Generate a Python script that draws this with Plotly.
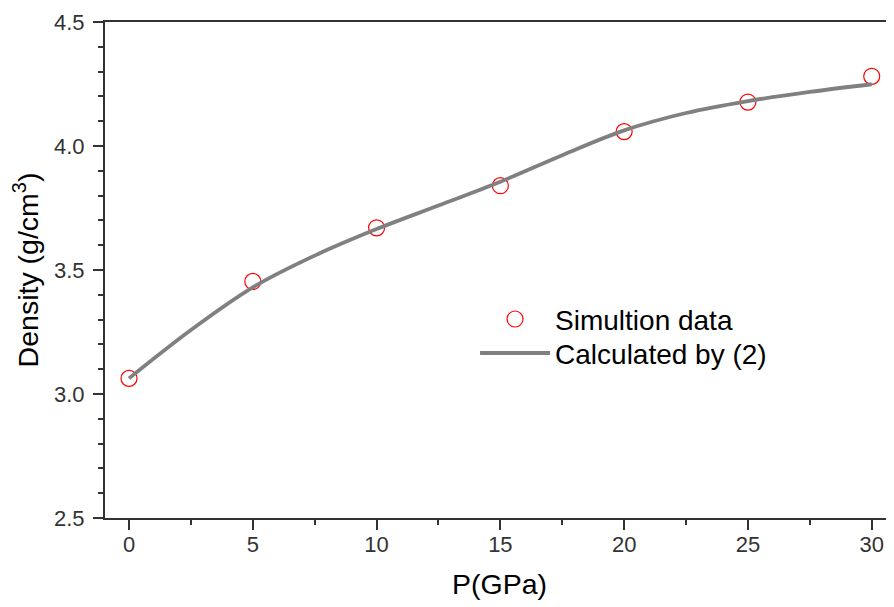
import plotly.graph_objects as go

# Data
sim_p = [0, 5, 10, 15, 20, 25, 30]
sim_density = [3.063, 3.454, 3.670, 3.840, 4.058, 4.177, 4.281]

calc_p = [0, 2.5, 5, 7.5, 10, 12.5, 15, 17.5, 20, 22.5, 25, 27.5, 30]
calc_density = [3.063, 3.258, 3.43, 3.558, 3.665, 3.76, 3.856, 3.963, 4.063, 4.133, 4.181, 4.218, 4.249]

x_ticks = [0, 5, 10, 15, 20, 25, 30]
y_ticks = [2.5, 3.0, 3.5, 4.0, 4.5]

FONT = "Liberation Sans, Arial, sans-serif"
AXIS_COLOR = "#333333"

fig = go.Figure()
fig.add_trace(go.Scatter(
    x=sim_p, y=sim_density, mode="markers", name="Simultion data",
    marker=dict(symbol="circle-open", size=16, color="#ff0000",
                line=dict(width=1.2, color="#ff0000")),
    legend="legend",
))
fig.add_trace(go.Scatter(
    x=calc_p, y=calc_density, mode="lines", name="Calculated by (2)",
    line=dict(color="#808080", width=3.8, shape="spline", smoothing=1.0),
    legend="legend2",
))

legend_common = dict(
    xanchor="left", yanchor="top", bgcolor="rgba(0,0,0,0)",
    font=dict(size=28, family=FONT, color="#000000"), itemwidth=70,
)

fig.update_layout(
    width=886, height=599,
    margin=dict(l=97, r=0, t=14, b=89),
    paper_bgcolor="white", plot_bgcolor="white",
    font=dict(family=FONT, color="#000000"),
    showlegend=True,
    legend=dict(x=0.469, y=0.451, **legend_common),
    legend2=dict(x=0.469, y=0.451 - 34 / 496, **legend_common),
    xaxis=dict(
        range=[-0.97, 30.9], tickvals=x_ticks, ticktext=[str(v) for v in x_ticks],
        showgrid=False, zeroline=False,
        showline=True, linecolor=AXIS_COLOR, linewidth=2, mirror=True,
        ticks="outside", ticklen=10, tickwidth=2, tickcolor=AXIS_COLOR,
        tickfont=dict(size=22, family=FONT, color="#333333"),
        ticklabelstandoff=-4,
        minor=dict(dtick=2.5, tick0=0, ticks="outside", ticklen=5, tickwidth=2, tickcolor=AXIS_COLOR),
        title=dict(text="P(GPa)", font=dict(size=28.5, family=FONT, color="#000000"), standoff=18),
    ),
    yaxis=dict(
        range=[2.5, 4.5], tickvals=y_ticks, ticktext=["%.1f" % v for v in y_ticks],
        showgrid=False, zeroline=False,
        showline=True, linecolor=AXIS_COLOR, linewidth=2, mirror=False,
        ticks="outside", ticklen=10, tickwidth=2, tickcolor=AXIS_COLOR,
        tickfont=dict(size=22, family=FONT, color="#333333"),
        ticklabelstandoff=4,
        minor=dict(dtick=0.1, tick0=2.5, ticks="outside", ticklen=5, tickwidth=2, tickcolor=AXIS_COLOR),
        title=dict(text="Density (g/cm<sup>3</sup>)", font=dict(size=28.5, family=FONT, color="#000000"), standoff=20),
    ),
)

fig.write_html("out.html")
